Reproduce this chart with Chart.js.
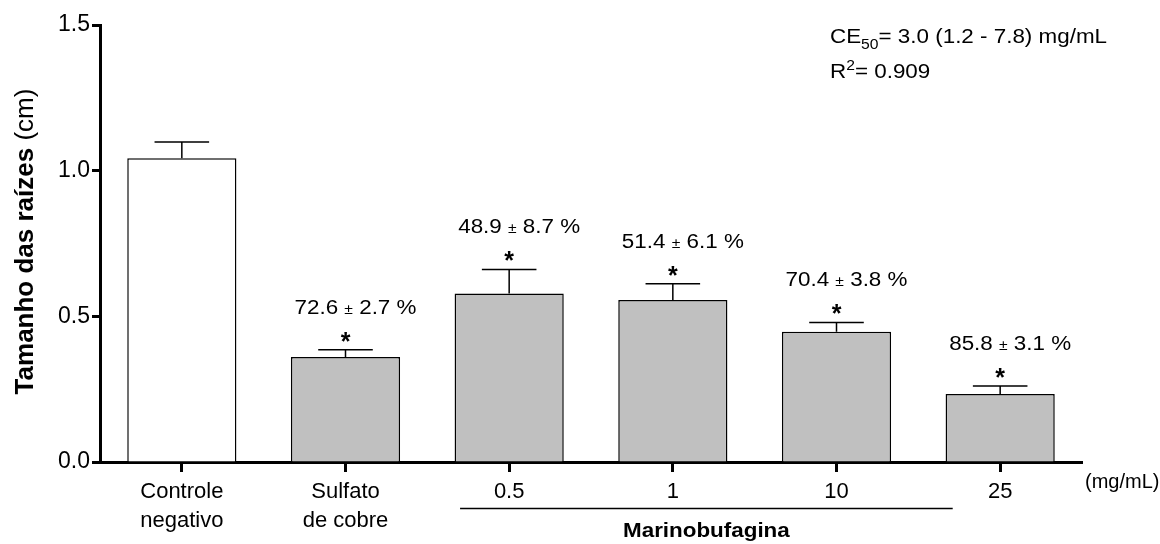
<!DOCTYPE html>
<html><head><meta charset="utf-8">
<script src="https://cdn.jsdelivr.net/npm/chart.js@4.4.1/dist/chart.umd.min.js"></script>
<style>html,body{margin:0;padding:0;background:#fff;}#wrap{width:1160px;height:544px;}</style>
</head><body><div id="wrap"><canvas id="c" width="1160" height="544"></canvas></div>
<script>
// ---- data ----
const categories = [['Controle', 'negativo'], ['Sulfato', 'de cobre'], '0.5', '1', '10', '25'];
const meanLength = [1.043, 0.360, 0.578, 0.556, 0.447, 0.233];
const semLength = [0.055, 0.025, 0.083, 0.056, 0.032, 0.028];
const inhibitionMean = [null, 72.6, 48.9, 51.4, 70.4, 85.8];
const inhibitionSem = [null, 2.7, 8.7, 6.1, 3.8, 3.1];
const significant = [false, true, true, true, true, true];
const yTicks = [0, 0.5, 1.0, 1.5];
const groupLabel = 'Marinobufagina';
const groupMembers = ['0.5', '1', '10'];
const unitLabel = '(mg/mL)';
const ce50 = { value: '3.0', low: '1.2', high: '7.8', unit: 'mg/mL' };
const r2 = '0.909';
const yTitleBold = 'Tamanho das raízes';
const yTitleRegular = ' (cm)';

// ---- style ----
const FAM = '"Liberation Sans", Arial, Helvetica, sans-serif';
const SX = 1.12;

function drawParts(ctx, parts, x, y, align, sx) {
  ctx.save();
  let total = 0;
  const widths = parts.map(p => { ctx.font = p.font; const w = ctx.measureText(p.text).width; total += w; return w; });
  ctx.translate(x, y);
  ctx.scale(sx, 1);
  let cx = align === 'center' ? -total / 2 : 0;
  ctx.textBaseline = 'alphabetic';
  ctx.textAlign = 'left';
  parts.forEach((p, i) => {
    ctx.font = p.font;
    ctx.fillText(p.text, cx, p.dy || 0);
    cx += widths[i];
  });
  ctx.restore();
}

const annotate = {
  id: 'annotate',
  afterDatasetsDraw(chart) {
    const ctx = chart.ctx;
    const ys = chart.scales.y, xs = chart.scales.x;
    const meta = chart.getDatasetMeta(0);
    const area = chart.chartArea;
    ctx.save();
    ctx.fillStyle = '#000';
    ctx.strokeStyle = '#000';
    // error bars
    meta.data.forEach((bar, i) => {
      const yTop = ys.getPixelForValue(meanLength[i]);
      const yErr = ys.getPixelForValue(meanLength[i] + semLength[i]);
      const half = bar.width / 4;
      ctx.lineWidth = 1.5;
      ctx.beginPath();
      ctx.moveTo(bar.x, yTop); ctx.lineTo(bar.x, yErr);
      ctx.moveTo(bar.x - half, yErr); ctx.lineTo(bar.x + half, yErr);
      ctx.stroke();
      if (significant[i]) {
        ctx.font = 'bold 25px ' + FAM;
        const m = ctx.measureText('*');
        const cy = yErr - 13;
        const base = cy + (m.actualBoundingBoxAscent - m.actualBoundingBoxDescent) / 2;
        ctx.textAlign = 'center'; ctx.textBaseline = 'alphabetic';
        ctx.fillText('*', bar.x, base);
      }
      if (inhibitionMean[i] !== null) {
        const cy = yErr - 43;
        drawParts(ctx, [
          { text: inhibitionMean[i].toFixed(1) + ' ', font: '20px ' + FAM },
          { text: '±', font: '14px ' + FAM },
          { text: ' ' + inhibitionSem[i].toFixed(1) + ' %', font: '20px ' + FAM }
        ], bar.x + 10, cy + 7, 'center', SX);
      }
    });
    // group bracket
    const catW = xs.getPixelForValue(1) - xs.getPixelForValue(0);
    const i0 = categories.indexOf(groupMembers[0]);
    const i1 = categories.indexOf(groupMembers[groupMembers.length - 1]);
    const lx0 = xs.getPixelForValue(i0) - 0.3 * catW;
    const lx1 = xs.getPixelForValue(i1) + 0.71 * catW;
    ctx.lineWidth = 1.3;
    ctx.beginPath(); ctx.moveTo(lx0, 508.5); ctx.lineTo(lx1, 508.5); ctx.stroke();
    drawParts(ctx, [{ text: groupLabel, font: 'bold 20px ' + FAM }], (lx0 + lx1) / 2, 537, 'center', SX);
    // unit
    drawParts(ctx, [{ text: unitLabel, font: '20px ' + FAM }], area.right + 3, 488, 'left', 1.0);
    // CE50 and R2
    drawParts(ctx, [
      { text: 'CE', font: '20px ' + FAM },
      { text: '50', font: '14px ' + FAM, dy: 6.5 },
      { text: '= ' + ce50.value + ' (' + ce50.low + ' - ' + ce50.high + ') ' + ce50.unit, font: '20px ' + FAM }
    ], 830, 42.7, 'left', SX);
    drawParts(ctx, [
      { text: 'R', font: '20px ' + FAM },
      { text: '2', font: '14px ' + FAM, dy: -8.3 },
      { text: '= ' + r2, font: '20px ' + FAM }
    ], 830, 78.3, 'left', SX);
    // y title
    ctx.save();
    const cy = (area.top + area.bottom) / 2 - 2;
    ctx.translate(33, cy);
    ctx.rotate(-Math.PI / 2);
    ctx.font = 'bold 26px ' + FAM;
    const wb = ctx.measureText(yTitleBold).width;
    ctx.font = '26px ' + FAM;
    const wr = ctx.measureText(yTitleRegular).width;
    const start = -(wb + wr) / 2;
    ctx.textAlign = 'left'; ctx.textBaseline = 'alphabetic';
    ctx.font = 'bold 26px ' + FAM;
    ctx.fillText(yTitleBold, start, 0);
    ctx.font = '26px ' + FAM;
    ctx.fillText(yTitleRegular, start + wb, 0);
    ctx.restore();
    ctx.restore();
  }
};

new Chart(document.getElementById('c'), {
  type: 'bar',
  data: {
    labels: categories,
    datasets: [{
      data: meanLength,
      backgroundColor: c => c.dataIndex === 0 ? '#ffffff' : '#c0c0c0',
      borderColor: '#000',
      borderWidth: 1.5,
      borderSkipped: 'bottom',
      categoryPercentage: 1,
      barPercentage: 0.667
    }]
  },
  options: {
    responsive: false,
    animation: false,
    devicePixelRatio: 1,
    layout: { padding: { left: 0, right: 78, top: 25, bottom: 0 } },
    plugins: { legend: { display: false }, tooltip: { enabled: false } },
    scales: {
      x: {
        offset: true,
        grid: { display: true, drawOnChartArea: false, drawTicks: true, tickLength: 10, tickWidth: 3, tickColor: '#000', offset: false },
        border: { display: true, width: 3, color: '#000' },
        ticks: { color: '#000', font: { family: FAM, size: 22, lineHeight: 1.29 }, padding: 6, maxRotation: 0, autoSkip: false },
        afterFit(s) { s.height = 82; }
      },
      y: {
        min: 0, max: 1.5,
        afterBuildTicks(s) { s.ticks = yTicks.map(v => ({ value: v })); },
        grid: { display: true, drawOnChartArea: false, tickLength: 8, tickWidth: 3, tickColor: '#000' },
        border: { display: true, width: 3, color: '#000' },
        ticks: { color: '#000', font: { family: FAM, size: 23 }, padding: 2, callback: v => Number(v).toFixed(1) },
        afterFit(s) { s.width = 100; }
      }
    }
  },
  plugins: [annotate]
});
</script></body></html>
